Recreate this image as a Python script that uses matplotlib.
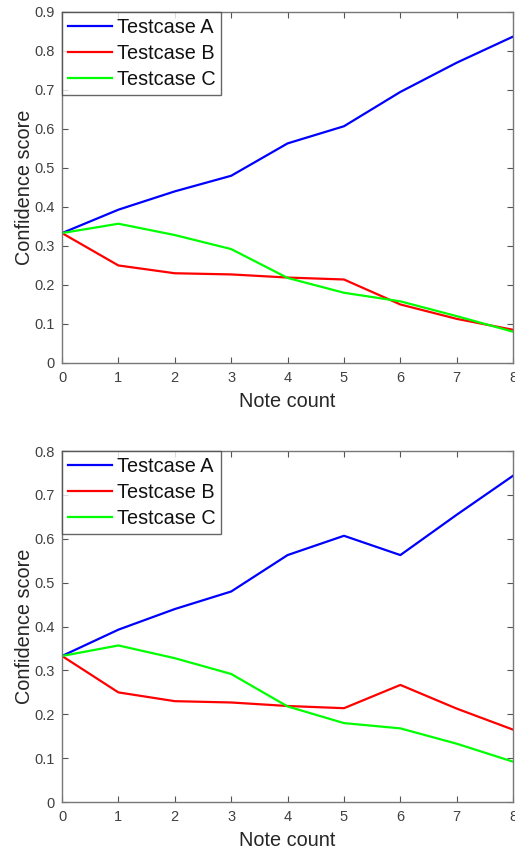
import matplotlib.pyplot as plt

note_count = [0, 1, 2, 3, 4, 5, 6, 7, 8]

top_a = [0.333, 0.393, 0.440, 0.480, 0.563, 0.607, 0.695, 0.770, 0.837]
top_b = [0.333, 0.250, 0.230, 0.227, 0.219, 0.214, 0.150, 0.113, 0.085]
top_c = [0.333, 0.357, 0.328, 0.292, 0.218, 0.180, 0.158, 0.120, 0.080]

bot_a = [0.333, 0.393, 0.440, 0.480, 0.563, 0.607, 0.563, 0.655, 0.744]
bot_b = [0.333, 0.250, 0.230, 0.227, 0.219, 0.214, 0.267, 0.213, 0.165]
bot_c = [0.333, 0.357, 0.328, 0.292, 0.218, 0.180, 0.168, 0.133, 0.092]

labels = ["Testcase A", "Testcase B", "Testcase C"]
colors = ["#0000ff", "#ff0000", "#00ff00"]

plt.rcParams['font.family'] = ['Liberation Sans', 'DejaVu Sans']

fig = plt.figure(figsize=(5.15, 8.56), dpi=100)
ax1 = fig.add_axes([0.1204, 0.576, 0.876, 0.410])
ax2 = fig.add_axes([0.1204, 0.063, 0.876, 0.410])


def draw(ax, series, ymax):
    for ys, lab, c in zip(series, labels, colors):
        ax.plot(note_count, ys, color=c, lw=1.6, label=lab)
    ax.set_xlim(0, 8)
    ax.set_ylim(0, ymax)
    ax.set_xticks(note_count)
    n = int(round(ymax * 10))
    ax.set_yticks([i / 10 for i in range(n + 1)])
    ax.set_yticklabels(["0"] + ["%.1f" % (i / 10) for i in range(1, n + 1)])
    ax.tick_params(direction='in', top=True, right=True, length=4, width=0.8,
                   color='#555555', labelcolor='#404040', labelsize=10.5)
    ax.tick_params(axis='x', pad=6)
    ax.tick_params(axis='y', pad=5)
    for s in ax.spines.values():
        s.set_color('#777777')
        s.set_linewidth(1.0)
    ax.set_xlabel("Note count", fontsize=14.3, color='#262626', labelpad=5)
    ax.set_ylabel("Confidence score", fontsize=14.3, color='#262626', labelpad=0.5)
    leg = ax.legend(loc='upper left', fontsize=14.3, frameon=True, fancybox=False,
                    borderaxespad=0, handlelength=2.2, handletextpad=0.25,
                    labelspacing=0.35, borderpad=0.3)
    leg.get_frame().set_edgecolor('#404040')
    leg.get_frame().set_linewidth(1.0)
    for t in leg.get_texts():
        t.set_color('#111111')


draw(ax1, [top_a, top_b, top_c], 0.9)
draw(ax2, [bot_a, bot_b, bot_c], 0.8)

fig.savefig("out.png", dpi=100)
